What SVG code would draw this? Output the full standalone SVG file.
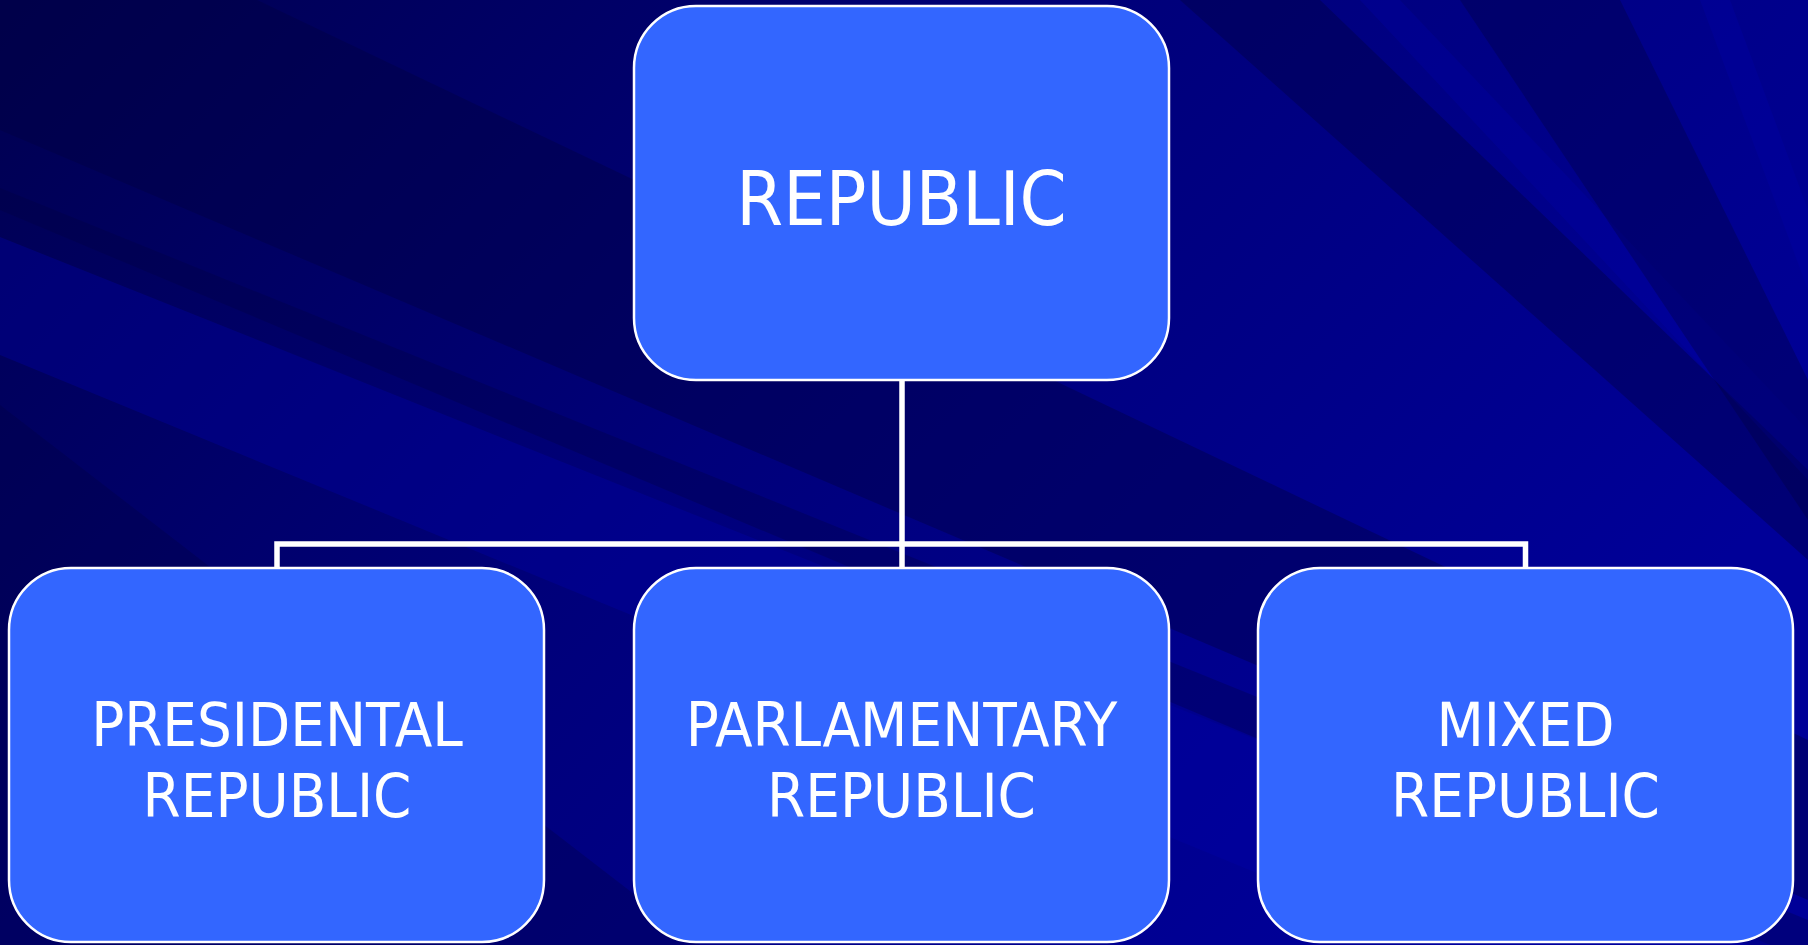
<svg xmlns="http://www.w3.org/2000/svg" width="1808" height="945" viewBox="0 0 1808 945">
  <defs>
    <linearGradient id="bg" x1="0" y1="0" x2="1" y2="0.5">
      <stop offset="0" stop-color="#000050"/>
      <stop offset="0.5" stop-color="#00007a"/>
      <stop offset="1" stop-color="#000098"/>
    </linearGradient>
    <style>
      .box { fill: #3366ff; stroke: #ffffff; stroke-width: 2.5; }
      .lbl { fill: #ffffff; font-family: "DejaVu Sans Condensed", "DejaVu Sans", sans-serif; font-stretch: condensed; text-anchor: middle; }
      .big { font-size: 75px; }
      .small { font-size: 61px; }
      .conn { fill: none; stroke: #ffffff; stroke-width: 5.5; stroke-linejoin: miter; }
      .dk { fill: #000040; }
      .lt { fill: #0000a8; }
    </style>
  </defs>

  <g id="background">
    <rect x="0" y="0" width="1808" height="945" fill="url(#bg)"/>
    <polygon class="dk" opacity="0.4" points="0,0 257,0 1808,740 1808,900 0,130"/>
    <polygon class="dk" opacity="0.3" points="0,188 0,210 1808,970 1808,920"/>
    <polygon class="lt" opacity="0.35" points="0,237 0,355 1808,1100 1808,960"/>
    <polygon class="dk" opacity="0.3" points="0,405 0,945 700,945"/>
    <polygon class="dk" opacity="0.4" points="1180,0 1320,0 1808,470 1808,560"/>
    <polygon class="lt" opacity="0.3" points="1360,0 1400,0 1808,430 1808,480"/>
    <polygon class="dk" opacity="0.35" points="1460,0 1620,0 1808,380 1808,520"/>
    <polygon class="lt" opacity="0.3" points="1700,0 1730,0 1808,210 1808,290"/>
  </g>

  <g id="connectors">
    <path class="conn" d="M902,380 V544 M277,568 V544 H1525.5 V568 M902,544 V568"/>
  </g>

  <g id="node-republic">
    <rect class="box" x="634" y="6" width="535" height="374" rx="62" ry="62"/>
    <text class="lbl big" x="901.5" y="225">REPUBLIC</text>
  </g>

  <g id="node-presidental">
    <rect class="box" x="9" y="568" width="535" height="374" rx="62" ry="62"/>
    <text class="lbl small" x="277" y="746">PRESIDENTAL</text>
    <text class="lbl small" x="277" y="817">REPUBLIC</text>
  </g>

  <g id="node-parlamentary">
    <rect class="box" x="634" y="568" width="535" height="374" rx="62" ry="62"/>
    <text class="lbl small" x="901.5" y="746">PARLAMENTARY</text>
    <text class="lbl small" x="901.5" y="817">REPUBLIC</text>
  </g>

  <g id="node-mixed">
    <rect class="box" x="1258" y="568" width="535" height="374" rx="62" ry="62"/>
    <text class="lbl small" x="1525.5" y="746">MIXED</text>
    <text class="lbl small" x="1525.5" y="817">REPUBLIC</text>
  </g>
</svg>
